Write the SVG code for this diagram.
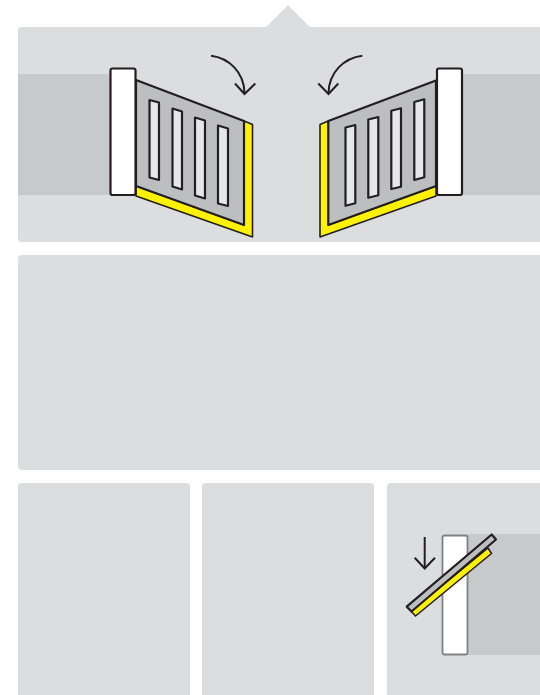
<svg xmlns="http://www.w3.org/2000/svg" width="540" height="695" viewBox="0 0 540 695">
<style>
.panel{fill:#dcddde}
.band{fill:#c8c9cb}
.post{fill:#fff;stroke:#231f20;stroke-width:2.200;stroke-linejoin:round}
.leaf{fill:#bcbec0;stroke:#231f20;stroke-width:2.200;stroke-linejoin:round}
.edge{fill:#fff200;stroke:#231f20;stroke-width:1.600;stroke-linejoin:round}
.slat{fill:#e6e7e8;stroke:#231f20;stroke-width:2.200;stroke-linejoin:round}
.arrow{fill:none;stroke:#231f20;stroke-width:2}
</style>
<rect width="540" height="695" fill="#fff"/>
<g id="panels">
<path class="panel" d="M288 5L310 27H540V242H22Q18 242 18 238V31Q18 27 22 27H266Z"/>
<rect class="panel" x="18" y="255" width="540" height="215" rx="4"/>
<rect class="panel" x="18" y="483" width="172" height="230" rx="4"/>
<rect class="panel" x="202" y="483" width="172" height="230" rx="4"/>
<rect class="panel" x="387" y="483" width="172" height="230" rx="4"/>
</g>
<g id="left-gate">
<rect class="band" x="18" y="74" width="93" height="121"/>
<path class="edge" d="M136 186L244 225V121L252.500 124.500V237L136 196Z"/>
<path class="leaf" d="M136 80L244 121V225L136 186Z"/>
<path class="slat" d="M149.500 100L159 102.500V180L149.500 177.500Z"/>
<path class="slat" d="M172.500 108.500L182 111.500V189.500L172.500 186.500Z"/>
<path class="slat" d="M195 117.500L205 120.500V198.500L195 195.500Z"/>
<path class="slat" d="M218 125.500L228 128.500V206L218 203.500Z"/>
<rect class="post" x="110.500" y="68.500" width="25" height="126.500" rx="2"/>
</g>
<g id="right-gate">
<rect class="band" x="462" y="74" width="78" height="121"/>
<path class="edge" d="M436 186L328.300 225V121L320 124.500V237L436 196Z"/>
<path class="leaf" d="M436 80.500L328.300 121V225L436 186Z"/>
<path class="slat" d="M345.500 127.500L355.300 125V203.300L345.500 205.700Z"/>
<path class="slat" d="M368.300 119.500L378.300 117V195.300L368.300 197.700Z"/>
<path class="slat" d="M391.300 110.700L401 108.300V186.700L391.300 189Z"/>
<path class="slat" d="M414.300 102L424.300 99.300V177.300L414.300 180Z"/>
<rect class="post" x="437" y="68.500" width="25" height="126.500" rx="2"/>
</g>
<g id="connectors">
<path class="arrow" d="M211 55.700C229 58 244 72 244.500 93"/>
<path class="arrow" d="M235 83.500L244.500 94L255.300 83.500"/>
<path class="arrow" d="M362.300 55.700C344 58 329 72 328.500 93"/>
<path class="arrow" d="M318.300 83.500L328.500 94L338.300 83.500"/>
<path class="arrow" d="M424.700 537V568"/>
<path class="arrow" d="M414.700 557.700L424.700 568.500L435 557.700"/>
</g>
<g id="side-view">
<rect class="band" x="467" y="534" width="73" height="121"/>
<rect x="442.500" y="535.500" width="25" height="119" rx="2" fill="#fff" stroke="#808285" stroke-width="1.800"/>
<path d="M411 611L488 548L491.500 553.500L415.500 616Z" fill="#fff200" stroke="#231f20" stroke-width="1.600" stroke-linejoin="round"/>
<path class="leaf" d="M406.700 606.700L491.700 534.500L496 539.500L411.500 611.500Z"/>
</g>
</svg>
